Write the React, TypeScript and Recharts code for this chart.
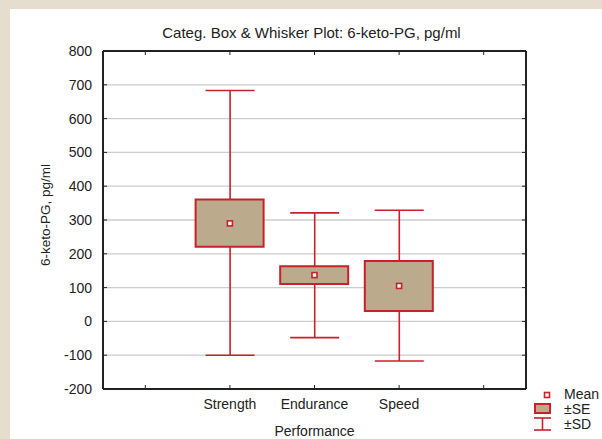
import React from 'react';
import { ComposedChart, Bar, Scatter, XAxis, YAxis, CartesianGrid } from 'recharts';

const categories = ['', 'Strength', 'Endurance', 'Speed', ''];
const means = [null, 290, 137, 105, null];
const seLow = [null, 221, 111, 31, null];
const seHigh = [null, 361, 163, 179, null];
const sdLow = [null, -100, -48, -117, null];
const sdHigh = [null, 683, 321, 329, null];
const yTicks = [-200, -100, 0, 100, 200, 300, 400, 500, 600, 700, 800];
const legendItems = ['Mean', '±SE', '±SD'];

const RED = '#c9202a';
const TAN = '#bbaa8c';
const FONT = '"Liberation Sans", Arial, sans-serif';

const data = categories.map((name, i) => ({
  name,
  mean: means[i],
  se: seLow[i] == null ? null : [seLow[i], seHigh[i]],
  sd: sdLow[i] == null ? null : [sdLow[i], sdHigh[i]],
}));

const Whisker = (props: any) => {
  const { x, y, width, height } = props;
  if (x == null || height == null || isNaN(height)) return null;
  const top = Math.min(y, y + height);
  const bottom = Math.max(y, y + height);
  const cx = x + width / 2;
  return (
    <g stroke={RED} strokeWidth={1.6} fill="none">
      <line x1={cx} y1={top} x2={cx} y2={bottom} />
      <line x1={x} y1={top} x2={x + width} y2={top} />
      <line x1={x} y1={bottom} x2={x + width} y2={bottom} />
    </g>
  );
};

const MeanMark = (props: any) => {
  const { cx, cy } = props;
  if (cx == null || cy == null) return null;
  return <rect x={cx - 2.5} y={cy - 2.5} width={5} height={5} fill="#fff" stroke={RED} strokeWidth={1.6} />;
};

// legend drawn next to the plot, bottom right
const LegendBox = () => (
  <svg width={70} height={45} style={{ position: 'absolute', left: 524, top: 381, overflow: 'visible' }}>
    <rect x={10.5} y={2.5} width={5} height={5} fill="#fff" stroke={RED} strokeWidth={1.6} />
    <rect x={1} y={14} width={15} height={9} fill={TAN} stroke={RED} strokeWidth={2} />
    <g stroke={RED} strokeWidth={1.6}>
      <line x1={0} y1={28} x2={17} y2={28} />
      <line x1={8.5} y1={28} x2={8.5} y2={40} />
      <line x1={0} y1={40} x2={17} y2={40} />
    </g>
    {legendItems.map((t, i) => (
      <text key={t} x={30} y={9 + i * 15} fontSize={14} fontFamily={FONT} fill="#222">
        {t}
      </text>
    ))}
  </svg>
);

export default function App() {
  return (
    <div style={{ position: 'absolute', left: 0, top: 0, width: 602, height: 439, background: '#e7ddcf', overflow: 'hidden' }}>
      <div style={{ position: 'absolute', left: 10, top: 9, width: 592, height: 430, background: '#fff' }}>
        <div
          style={{
            position: 'absolute',
            left: 0,
            width: 603,
            top: 15,
            textAlign: 'center',
            fontFamily: FONT,
            fontSize: 15,
            color: '#222',
            whiteSpace: 'nowrap',
          }}
        >
          Categ. Box &amp; Whisker Plot: 6-keto-PG, pg/ml
        </div>
        <ComposedChart
          width={592}
          height={430}
          data={data}
          margin={{ top: 41, right: 75, bottom: 0, left: 20 }}
          style={{ fontFamily: FONT }}
        >
          <CartesianGrid vertical={false} stroke="#cccccc" strokeWidth={1.3} yAxisId={0} xAxisId={0} />
          <XAxis
            dataKey="name"
            xAxisId={0}
            height={50}
            axisLine={{ stroke: '#222', strokeWidth: 2 }}
            tickLine={{ stroke: '#222' }}
            tickSize={-4}
            tickMargin={14}
            interval={0}
            tick={{ fontSize: 14, fill: '#222' }}
            label={({ viewBox }: any) => (
              <text
                x={viewBox.x + viewBox.width / 2}
                y={viewBox.y + 47}
                textAnchor="middle"
                fontSize={14}
                fill="#222"
                fontFamily={FONT}
              >
                Performance
              </text>
            )}
          />
          <XAxis
            dataKey="name"
            xAxisId="top"
            orientation="top"
            height={1}
            axisLine={{ stroke: '#222', strokeWidth: 2 }}
            tickLine={{ stroke: '#222' }}
            tickSize={-4}
            interval={0}
            tickFormatter={() => ''}
          />
          <YAxis
            yAxisId={0}
            type="number"
            domain={[-200, 800]}
            ticks={yTicks}
            interval={0}
            allowDataOverflow
            width={73}
            axisLine={{ stroke: '#222', strokeWidth: 2 }}
            tickLine={{ stroke: '#222' }}
            tickSize={-4}
            tickMargin={15}
            tick={{ fontSize: 14, fill: '#222' }}
            label={({ viewBox }: any) => {
              const x = viewBox.x + 15;
              const y = viewBox.y + viewBox.height / 2 - 5;
              return (
                <text
                  x={x}
                  y={y}
                  transform={`rotate(-90 ${x} ${y})`}
                  textAnchor="middle"
                  dominantBaseline="central"
                  fontSize={13.5}
                  fill="#222"
                  fontFamily={FONT}
                >
                  6-keto-PG, pg/ml
                </text>
              );
            }}
          />
          <YAxis
            yAxisId="r"
            orientation="right"
            type="number"
            domain={[-200, 800]}
            ticks={yTicks}
            interval={0}
            allowDataOverflow
            width={1}
            axisLine={{ stroke: '#222', strokeWidth: 2 }}
            tickLine={{ stroke: '#222' }}
            tickSize={-4}
            tickFormatter={() => ''}
          />
          <Bar dataKey="sd" xAxisId="top" yAxisId="r" barSize={49} shape={<Whisker />} isAnimationActive={false} />
          <Bar
            dataKey="se"
            xAxisId={0}
            yAxisId={0}
            barSize={68}
            fill={TAN}
            stroke={RED}
            strokeWidth={2}
            isAnimationActive={false}
          />
          <Scatter dataKey="mean" xAxisId={0} yAxisId={0} shape={<MeanMark />} isAnimationActive={false} />
        </ComposedChart>
        <LegendBox />
      </div>
    </div>
  );
}
